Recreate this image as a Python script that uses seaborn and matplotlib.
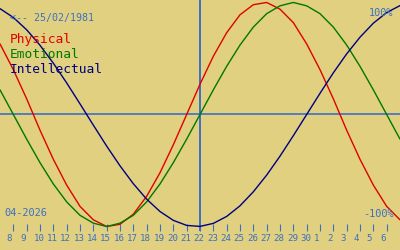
import matplotlib
matplotlib.use("Agg")
import matplotlib.pyplot as plt
from matplotlib.transforms import ScaledTranslation
import seaborn as sns
import pandas as pd

# day offsets relative to 22/04/2026 (today)
day_offset = list(range(-15, 16))
tick_offsets = list(range(-14, 15))
tick_labels = ['8', '9', '10', '11', '12', '13', '14', '15', '16', '17', '18', '19',
               '20', '21', '22', '23', '24', '25', '26', '27', '28', '29', '30',
               '1', '2', '3', '4', '5', '6']

physical = [0.63, 0.40, 0.14, -0.14, -0.40, -0.63, -0.82, -0.94, -1.00, -0.98, -0.89,
            -0.73, -0.52, -0.27, 0.00, 0.27, 0.52, 0.73, 0.89, 0.98, 1.00, 0.94, 0.82,
            0.63, 0.40, 0.14, -0.14, -0.40, -0.63, -0.82, -0.94]
emotional = [0.22, 0.00, -0.22, -0.43, -0.62, -0.78, -0.90, -0.97, -1.00, -0.97, -0.90,
             -0.78, -0.62, -0.43, -0.22, 0.00, 0.22, 0.43, 0.62, 0.78, 0.90, 0.97, 1.00,
             0.97, 0.90, 0.78, 0.62, 0.43, 0.22, 0.00, -0.22]
intellectual = [0.945, 0.866, 0.756, 0.618, 0.458, 0.282, 0.095, -0.095, -0.282, -0.458,
                -0.618, -0.756, -0.866, -0.945, -0.990, -0.999, -0.972, -0.910, -0.815,
                -0.690, -0.541, -0.372, -0.189, 0.000, 0.189, 0.372, 0.541, 0.690, 0.815,
                0.910, 0.972]

series_names = ['Physical', 'Emotional', 'Intellectual']
series_colors = ['#e00000', '#007800', '#000080']
birth_label = '<-- 25/02/1981'
month_label = '04-2026'

BG = '#e0d080'
BLUE = '#3d6fc4'

sns.set_theme(style='white')
plt.rcParams['font.family'] = ['DejaVu Sans Mono', 'DejaVu Sans']

df = pd.DataFrame({'day': day_offset * 3,
                   'value': physical + emotional + intellectual,
                   'series': [s for s in series_names for _ in day_offset]})

fig = plt.figure(figsize=(4, 2.5), dpi=100, facecolor=BG)
ax = fig.add_axes([0, 19 / 250, 1, 231 / 250])
ax.set_facecolor(BG)

sns.lineplot(data=df, x='day', y='value', hue='series', palette=dict(zip(series_names, series_colors)),
             hue_order=series_names, linewidth=1.0, legend=False, ax=ax, estimator=None, sort=False)

ax.axhline(0, color=BLUE, lw=1.2, zorder=1)
ax.axvline(0, color=BLUE, lw=1.4, zorder=1)

ax.set_xlim(-15, 15)
ax.set_ylim(-1.040, 1.022)
for s in ax.spines.values():
    s.set_visible(False)
ax.set_xlabel('')
ax.set_ylabel('')
ax.set_yticks([])
ax.set_xticks(tick_offsets)
ax.set_xticklabels(tick_labels)
ax.tick_params(axis='x', direction='in', length=5.0, width=0.8, color=BLUE,
               labelcolor=BLUE, labelsize=6.6, pad=2.5, bottom=True)
offset = ScaledTranslation(-6.5 / 100, 0, fig.dpi_scale_trans)
for lab in ax.get_xticklabels():
    lab.set_ha('left')
    lab.set_transform(lab.get_transform() + offset)

W, H = 400, 250
fig.text(10 / W, 1 - 21 / H, birth_label, color=BLUE, fontsize=7.2, va='baseline', ha='left')
for i, (name, col) in enumerate(zip(series_names, series_colors)):
    fig.text(10 / W, 1 - (43 + 15 * i) / H, name, color=col, fontsize=9.3, va='baseline', ha='left')
fig.text(393 / W, 1 - 16 / H, '100%', color=BLUE, fontsize=7.4, va='baseline', ha='right')
fig.text(394 / W, 1 - 217 / H, '-100%', color=BLUE, fontsize=7.4, va='baseline', ha='right')
fig.text(4 / W, 1 - 216 / H, month_label, color=BLUE, fontsize=7.4, va='baseline', ha='left')

fig.savefig('out.png', dpi=100, facecolor=BG)
